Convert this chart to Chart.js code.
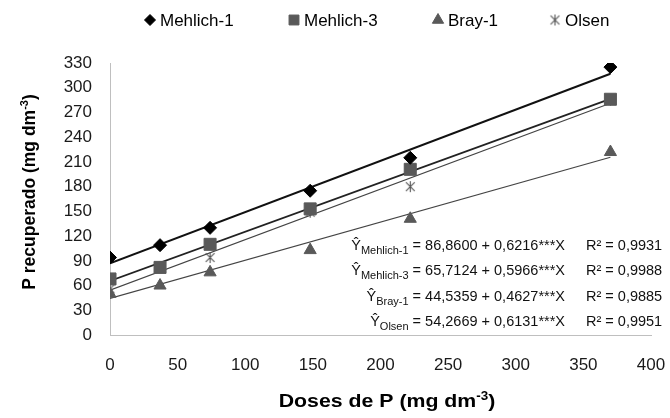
<!DOCTYPE html>
<html lang="pt">
<head>
<meta charset="UTF-8">
<title>P recuperado x Doses de P</title>
<script src="https://cdn.jsdelivr.net/npm/chart.js"></script>
<style>
    html, body { margin: 0; padding: 0; background: #fff; }
    #wrap { width: 670px; height: 418px; position: relative; }
</style>
</head>
<body>
<div id="wrap"><canvas id="chart"></canvas></div>
<script>
    // doses (x) and recovered P for each extractor
    const doses = [0, 37, 74, 148, 222, 370];
    const mehlich1 = [94, 109, 130, 175, 215, 325];
    const mehlich3 = [68, 82, 110, 153, 201, 286];
    const bray1 = [50, 60, 76, 103, 141, 222];
    const olsen = [56, 82, 94, 149, 180, 285];

    // fitted lines, end points at x = 0 and x = 370
    const fitX = [0, 370];
    const fitMehlich1 = [86.9, 316.9];
    const fitMehlich3 = [65.7, 286.5];
    const fitBray1 = [44.5, 215.7];
    const fitOlsen = [54.3, 281.1];

    const seriesNames = ['Mehlich-1', 'Mehlich-3', 'Bray-1', 'Olsen'];
    const eqRight = [' = 86,8600 + 0,6216***X', ' = 65,7124 + 0,5966***X', ' = 44,5359 + 0,4627***X', ' = 54,2669 + 0,6131***X'];
    const r2Labels = ['R² = 0,9931', 'R² = 0,9988', 'R² = 0,9885', 'R² = 0,9951'];

    const FONT = '"Liberation Sans", Arial, sans-serif';

    // Excel style "star" marker: an X with a vertical bar
    function makeStar(size, color) {
        const c = document.createElement('canvas');
        c.width = size; c.height = size;
        const g = c.getContext('2d');
        const m = size / 2, r = size / 2 - 1;
        g.strokeStyle = color;
        g.lineWidth = 1.1;
        g.beginPath();
        g.moveTo(m, m - r); g.lineTo(m, m + r);
        g.moveTo(m - r * 0.8, m - r * 0.8); g.lineTo(m + r * 0.8, m + r * 0.8);
        g.moveTo(m + r * 0.8, m - r * 0.8); g.lineTo(m - r * 0.8, m + r * 0.8);
        g.stroke();
        return c;
    }
    const starMarker = makeStar(13, '#555');

    const pts = (xs, ys) => xs.map((x, i) => ({ x: x, y: ys[i] }));

    const markers = [
        { pointStyle: 'rectRot', pointRadius: 6.5, color: '#000' },
        { pointStyle: 'rect', pointRadius: 8.5, color: '#595959' },
        { pointStyle: 'triangle', pointRadius: 7, color: '#595959' },
        { pointStyle: starMarker, pointRadius: 6.5, color: '#555' }
    ];
    const values = [mehlich1, mehlich3, bray1, olsen];
    const fits = [fitMehlich1, fitMehlich3, fitBray1, fitOlsen];
    const fitStyle = [
        { color: '#111', width: 2 },
        { color: '#222', width: 1.7 },
        { color: '#444', width: 1.2 },
        { color: '#444', width: 1.2 }
    ];

    const datasets = [];
    seriesNames.forEach((name, i) => {
        datasets.push({
            label: name,
            data: pts(doses, values[i]),
            showLine: false,
            pointStyle: markers[i].pointStyle,
            pointRadius: markers[i].pointRadius,
            pointBackgroundColor: markers[i].color,
            pointBorderColor: markers[i].color,
            pointBorderWidth: 1
        });
    });
    seriesNames.forEach((name, i) => {
        datasets.push({
            label: name + ' (ajuste)',
            data: pts(fitX, fits[i]),
            showLine: true,
            borderColor: fitStyle[i].color,
            borderWidth: fitStyle[i].width,
            pointRadius: 0,
            fill: false
        });
    });

    // legend, regression equations and axis titles
    const extras = {
        id: 'extras',
        afterDraw(chart) {
            const c = chart.ctx;
            const h = Chart.helpers;
            c.save();

            // legend
            const legX = [150, 294, 438, 555];
            const legSize = [5.5, 7, 6.5, 6.5];
            c.textBaseline = 'middle';
            c.textAlign = 'left';
            c.font = '17px ' + FONT;
            seriesNames.forEach((name, i) => {
                c.fillStyle = markers[i].color;
                c.strokeStyle = markers[i].color;
                c.lineWidth = 1;
                h.drawPoint(c, { pointStyle: markers[i].pointStyle, radius: legSize[i], rotation: 0, borderWidth: 1 }, legX[i], 20);
                c.fillStyle = '#000';
                c.fillText(name, legX[i] + 10, 21);
            });

            // equations
            const rowY = [245, 270, 296, 321];
            const eqEnd = 565, r2Start = 586;
            seriesNames.forEach((name, i) => {
                const y = rowY[i];
                c.font = '14.5px ' + FONT;
                const wY = c.measureText('Ŷ').width;
                const wR = c.measureText(eqRight[i]).width;
                c.font = '11px ' + FONT;
                const wS = c.measureText(name).width;
                let x = eqEnd - wR - wS - wY;
                c.fillStyle = '#111';
                c.textBaseline = 'alphabetic';
                c.font = '14.5px ' + FONT;
                c.fillText('Ŷ', x, y + 5);
                x += wY;
                c.font = '11px ' + FONT;
                c.fillText(name, x, y + 9);
                x += wS;
                c.font = '14.5px ' + FONT;
                c.fillText(eqRight[i], x, y + 5);
                c.fillText(r2Labels[i], r2Start, y + 5);
            });

            // axis titles with superscript
            function titleWithSup(parts) {
                let w = 0;
                parts.forEach(p => { c.font = p.font; w += c.measureText(p.t).width; });
                let x = -w / 2;
                parts.forEach(p => {
                    c.font = p.font;
                    c.fillText(p.t, x, p.dy);
                    x += c.measureText(p.t).width;
                });
            }
            c.fillStyle = '#000';
            c.textBaseline = 'alphabetic';
            let big = 'bold 19px ' + FONT, sup = 'bold 12px ' + FONT;
            c.save();
            c.translate(387, 407);
            c.scale(1.12, 1);
            titleWithSup([{ t: 'Doses de P (mg dm', font: big, dy: 0 }, { t: '-3', font: sup, dy: -7 }, { t: ')', font: big, dy: 0 }]);
            c.restore();
            big = 'bold 17.5px ' + FONT; sup = 'bold 11px ' + FONT;
            c.save();
            c.translate(35, 192);
            c.rotate(-Math.PI / 2);
            titleWithSup([{ t: 'P recuperado (mg dm', font: big, dy: 0 }, { t: '-3', font: sup, dy: -7 }, { t: ')', font: big, dy: 0 }]);
            c.restore();

            c.restore();
        }
    };

    const tickFont = { family: FONT, size: 17 };

    new Chart(document.getElementById('chart'), {
        type: 'scatter',
        data: { datasets: datasets },
        options: {
            responsive: true,
            maintainAspectRatio: false,
            animation: false,
            layout: { padding: { top: 63, right: 19, left: 0, bottom: 0 } },
            plugins: { legend: { display: false }, tooltip: { enabled: false } },
            scales: {
                x: {
                    type: 'linear',
                    min: 0, max: 400,
                    ticks: { stepSize: 50, font: tickFont, color: '#1a1a1a', padding: 20 },
                    grid: { display: false, drawTicks: false },
                    border: { display: true, color: '#bfbfbf', width: 1 },
                    afterFit: s => { s.height = 83; s.paddingLeft = 0; s.paddingRight = 0; }
                },
                y: {
                    min: 0, max: 330,
                    ticks: { stepSize: 30, font: tickFont, color: '#1a1a1a', padding: 18 },
                    grid: { display: false, drawTicks: false },
                    border: { display: true, color: '#bfbfbf', width: 1 },
                    afterFit: s => { s.width = 110; }
                }
            }
        },
        plugins: [extras]
    });
</script>
</body>
</html>
